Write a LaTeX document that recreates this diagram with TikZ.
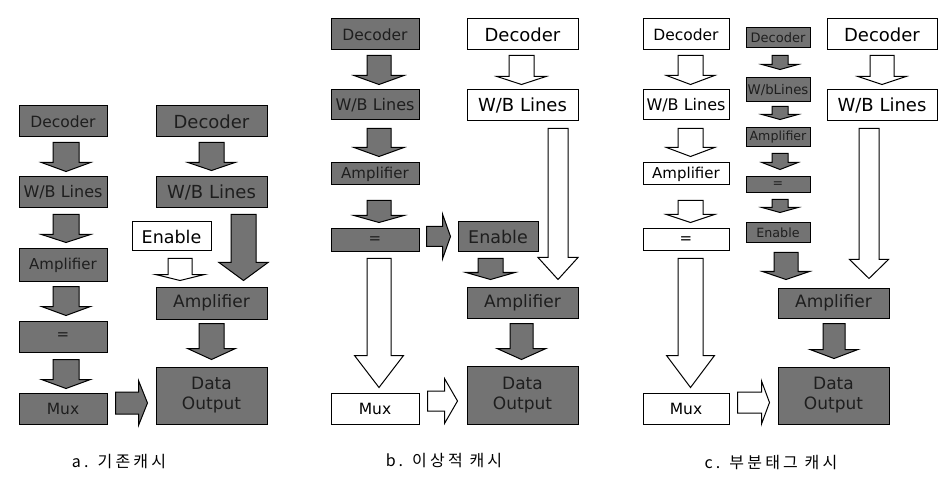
\documentclass[tikz,border=0pt]{standalone}
\usepackage{fontspec}
\setmainfont{DejaVu Sans}
\newfontfamily\kfont[LetterSpace=20]{Noto Sans CJK KR}
\usetikzlibrary{calc}
\definecolor{boxgray}{RGB}{115,115,115}
\definecolor{boxtext}{RGB}{30,30,30}
\newcommand\myfs[1]{\fontsize{#1}{20}\selectfont}
% vertical block arrow: style, start, end, shaft half-width, head half-width, head length
\newcommand\varrow[6]{\draw[#1] let \p1=#2, \p2=#3 in
  (\x1-#4,\y1) -- (\x1+#4,\y1) -- (\x1+#4,\y2+#6) -- (\x1+#5,\y2+#6) -- (\x1,\y2)
  -- (\x1-#5,\y2+#6) -- (\x1-#4,\y2+#6) -- cycle;}
% horizontal block arrow
\newcommand\harrow[6]{\draw[#1] let \p1=#2, \p2=#3 in
  (\x1,\y1+#4) -- (\x2-#6,\y1+#4) -- (\x2-#6,\y1+#5) -- (\x2,\y1)
  -- (\x2-#6,\y1-#5) -- (\x2-#6,\y1-#4) -- (\x1,\y1-#4) -- cycle;}
\tikzset{
  box/.style={draw, line width=1pt, inner sep=0pt, align=center},
  gbox/.style={box, fill=boxgray, text=boxtext},
  wbox/.style={box, fill=white, text=black},
  garrow/.style={draw, line width=1pt, fill=boxgray, line join=miter},
  warrow/.style={draw, line width=1pt, fill=white, line join=miter},
  captxt/.style={font=\kfont\fontsize{16}{20}\selectfont, text=black},
}
\begin{document}
\begin{tikzpicture}[x=1pt,y=-1pt]
\useasboundingbox[fill=white] (0,0) rectangle (948,481);
% ---------------- panel a ----------------
\node[gbox, minimum width=88, minimum height=31, font=\myfs{15.5}] (decA) at (63,121.5) {Decoder};
\node[gbox, minimum width=88, minimum height=31, font=\myfs{16}] (wbA) at (63,192.5) {W/B Lines};
\node[gbox, minimum width=88, minimum height=32, font=\myfs{15}] (ampA) at (63,265) {Amplifier};
\node[gbox, minimum width=88, minimum height=31, font=\myfs{15}] (eqA) at (63,336.5) {=};
\node[gbox, minimum width=88, minimum height=31, font=\myfs{15.5}] (muxA) at (63,408.5) {Mux};
\node[gbox, minimum width=111, minimum height=31, font=\myfs{18}] (decA2) at (211.5,121.5) {Decoder};
\node[gbox, minimum width=111, minimum height=31, font=\myfs{18}] (wbA2) at (211.5,192.5) {W/B Lines};
\node[wbox, minimum width=79, minimum height=29, font=\myfs{17.5}] (enA) at (171.5,236.5) {Enable};
\node[gbox, minimum width=111, minimum height=32, font=\myfs{17}] (ampA2) at (211.5,303) {Amplifier};
\node[gbox, minimum width=111, minimum height=57, font=\myfs{17}] (dataA) at (211.5,395.5) {Data\\Output};

\varrow{garrow}{($(decA.south)+(3,5)$)}{($(wbA.north)+(0,-5)$)}{13}{24.5}{9}
\varrow{garrow}{($(wbA.south)+(3,6)$)}{($(ampA.north)+(0,-6)$)}{13}{24.5}{8}
\varrow{garrow}{($(ampA.south)+(3,5)$)}{($(eqA.north)+(0,-5)$)}{13}{24.5}{9}
\varrow{garrow}{($(eqA.south)+(3,7)$)}{($(muxA.north)+(0,-4)$)}{13}{24.5}{9}
\varrow{garrow}{($(decA2.south)+(0,5)$)}{($(wbA2.north)+(0,-6)$)}{12.5}{23.5}{8}
\varrow{garrow}{($(wbA2.south)+(32,6)$)}{($(ampA2.north)+(0,-6)$)}{12.5}{24.5}{18}
\varrow{warrow}{($(enA.south)+(8.5,7)$)}{($(ampA2.north)+(0,-6)$)}{12}{24.5}{6}
\varrow{garrow}{($(ampA2.south)+(0,4)$)}{($(dataA.north)+(0,-7)$)}{12.5}{24}{11}
\harrow{garrow}{($(muxA.east)+(8,-5.5)$)}{($(dataA.west)+(-8,0)$)}{11}{22.5}{9}
\node[captxt] (capA) at (119,461.5) {a. 기존캐시};

% ---------------- panel b ----------------
\node[gbox, minimum width=88, minimum height=31, font=\myfs{15.5}] (decB) at (375,34.5) {Decoder};
\node[gbox, minimum width=88, minimum height=30, font=\myfs{16}] (wbB) at (375,105) {W/B Lines};
\node[gbox, minimum width=88, minimum height=22, font=\myfs{15}] (ampB) at (375,174) {Amplifier};
\node[gbox, minimum width=88, minimum height=23, font=\myfs{15}] (eqB) at (375,240.5) {=};
\node[wbox, minimum width=88, minimum height=31, font=\myfs{15.5}] (muxB) at (375,408.5) {Mux};
\node[wbox, minimum width=111, minimum height=31, font=\myfs{18}] (decB2) at (522.5,34.5) {Decoder};
\node[wbox, minimum width=111, minimum height=31, font=\myfs{18}] (wbB2) at (522.5,105.5) {W/B Lines};
\node[gbox, minimum width=80, minimum height=30, font=\myfs{17.5}] (enB) at (498,237) {Enable};
\node[gbox, minimum width=111, minimum height=31, font=\myfs{17}] (ampB2) at (522.5,302.5) {Amplifier};
\node[gbox, minimum width=111, minimum height=58, font=\myfs{17}] (dataB) at (522.5,395) {Data\\Output};

\varrow{garrow}{($(decB.south)+(4,5)$)}{($(wbB.north)+(0,-5)$)}{12}{25}{9}
\varrow{garrow}{($(wbB.south)+(4,8)$)}{($(ampB.north)+(0,-6)$)}{12}{25}{9}
\varrow{garrow}{($(ampB.south)+(4,15)$)}{($(eqB.north)+(0,-6)$)}{12}{25}{7}
\harrow{garrow}{($(eqB.east)+(7,-4)$)}{($(enB.west)+(-7,0)$)}{10}{22.5}{8}
\varrow{garrow}{($(enB.south)+(-7.5,6)$)}{($(ampB2.north)+(0,-7)$)}{12.5}{24.5}{7}
\varrow{garrow}{($(ampB2.south)+(-1,5)$)}{($(dataB.north)+(0,-6)$)}{11.5}{24.5}{11}
\varrow{warrow}{($(decB2.south)+(-1,5)$)}{($(wbB2.north)+(0,-5)$)}{12.5}{24.5}{8}
\varrow{warrow}{($(wbB2.south)+(35.5,7)$)}{($(ampB2.north)+(0,-7)$)}{10}{20}{22}
\varrow{warrow}{($(eqB.south)+(4,6)$)}{($(muxB.north)+(0,-5)$)}{12}{24.5}{32}
\harrow{warrow}{($(muxB.east)+(8,-7.5)$)}{($(dataB.west)+(-9,0)$)}{10}{22.5}{13}
\node[captxt] (capB) at (444,460.5) {b. 이상적 캐시};

% ---------------- panel c ----------------
\node[wbox, minimum width=86, minimum height=31, font=\myfs{15.5}] (decC1) at (686,34.5) {Decoder};
\node[wbox, minimum width=86, minimum height=30, font=\myfs{16}] (wbC1) at (686,105) {W/B Lines};
\node[wbox, minimum width=86, minimum height=22, font=\myfs{15}] (ampC1) at (686,174) {Amplifier};
\node[wbox, minimum width=86, minimum height=22, font=\myfs{15}] (eqC1) at (686,240) {=};
\node[wbox, minimum width=86, minimum height=31, font=\myfs{15.5}] (muxC) at (686,408.5) {Mux};
\node[gbox, minimum width=64, minimum height=20, font=\myfs{13}] (decC2) at (778,38) {Decoder};
\node[gbox, minimum width=64, minimum height=24, font=\myfs{13.3}] (wbC2) at (778,90) {W/bLines};
\node[gbox, minimum width=64, minimum height=19, font=\myfs{12.6}] (ampC2) at (778,137.5) {Amplifier};
\node[gbox, minimum width=64, minimum height=16, font=\myfs{12.6}] (eqC2) at (778,185) {=};
\node[gbox, minimum width=64, minimum height=20, font=\myfs{12.7}] (enC2) at (778,233) {Enable};
\node[wbox, minimum width=110, minimum height=31, font=\myfs{18}] (decC3) at (882,34.5) {Decoder};
\node[wbox, minimum width=110, minimum height=31, font=\myfs{18}] (wbC3) at (882,105.5) {W/B Lines};
\node[gbox, minimum width=111, minimum height=30, font=\myfs{17}] (ampC3) at (833.5,303) {Amplifier};
\node[gbox, minimum width=111, minimum height=57, font=\myfs{17}] (dataC) at (833.5,395.5) {Data\\Output};

\varrow{warrow}{($(decC1.south)+(4.5,5)$)}{($(wbC1.north)+(0,-5)$)}{12.5}{24}{9}
\varrow{warrow}{($(wbC1.south)+(4.5,8)$)}{($(ampC1.north)+(0,-6)$)}{12.5}{24}{9}
\varrow{warrow}{($(ampC1.south)+(4.5,15)$)}{($(eqC1.north)+(0,-6)$)}{12.5}{24}{8}
\varrow{warrow}{($(eqC1.south)+(4.5,7)$)}{($(muxC.north)+(0,-5)$)}{12.5}{24}{32}
\harrow{warrow}{($(muxC.east)+(8,-6)$)}{($(dataC.west)+(-8,0)$)}{10.5}{21.5}{8}
\varrow{garrow}{($(decC2.south)+(2,7)$)}{($(wbC2.north)+(0,-8)$)}{8}{18}{5}
\varrow{garrow}{($(wbC2.south)+(2,4)$)}{($(ampC2.north)+(0,-8)$)}{8}{18}{5}
\varrow{garrow}{($(ampC2.south)+(2,6)$)}{($(eqC2.north)+(0,-7)$)}{8}{18}{7}
\varrow{garrow}{($(eqC2.south)+(2,6)$)}{($(enC2.north)+(0,-10)$)}{8}{18}{5}
\varrow{garrow}{($(enC2.south)+(8,9)$)}{($(ampC3.north)+(0,-8)$)}{12}{23.5}{8}
\varrow{warrow}{($(decC3.south)+(0,5)$)}{($(wbC3.north)+(0,-5)$)}{12}{24}{8}
\varrow{warrow}{($(wbC3.south)+(-13,7)$)}{($(ampC3.north)+(0,-9)$)}{10}{19.5}{19}
\varrow{garrow}{($(ampC3.south)+(0.5,5)$)}{($(dataC.north)+(0,-8)$)}{11}{24}{9}
\node[captxt] (capC) at (771,463) {c. 부분태그 캐시};
\end{tikzpicture}
\end{document}
